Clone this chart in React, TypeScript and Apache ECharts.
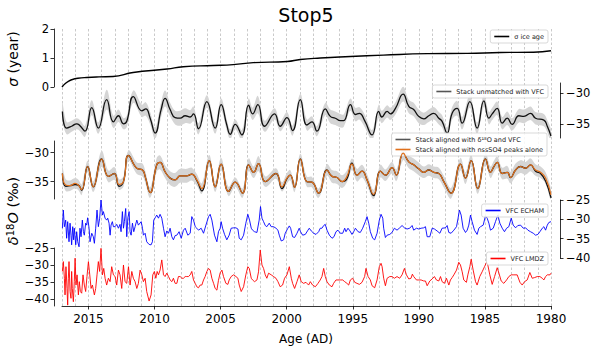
import React, { useEffect, useRef } from "react";
import * as echarts from "echarts";

const X_MIN = 1980;
const X_MAX = 2017;
const FONT = "DejaVu Sans";

// σ ice age [year, sigma]
const sigmaIceAge: number[][] = [
  [2017.0, 0.0], [2016.75, 0.12], [2016.5, 0.2], [2016.27, 0.25], [2015.8, 0.3], [2015.13, 0.33],
  [2014.2, 0.35], [2013.14, 0.36], [2011.62, 0.5], [2009.05, 0.62], [2007.83, 0.7], [2005.56, 0.74],
  [2004.05, 0.77], [2002.53, 0.84], [1999.95, 0.88], [1998.97, 0.95], [1997.45, 1.0], [1995.18, 1.05],
  [1992.68, 1.1], [1989.35, 1.15], [1986.32, 1.16], [1983.82, 1.19], [1981.32, 1.2], [1980.0, 1.25],
];

// Stack unmatched with VFC [year, value, half-width of grey band]
const stackUnmatched: number[][] = [
  [2016.97, -33.0, 1.4], [2016.65, -35.7, 1.0], [2016.27, -35.4, 0.9], [2015.89, -35.0, 0.9],
  [2015.64, -35.3, 0.9], [2015.26, -36.2, 0.9], [2014.75, -32.4, 1.2], [2014.25, -35.7, 0.9],
  [2013.62, -31.1, 1.6], [2013.11, -34.7, 1.0], [2012.73, -33.7, 1.0], [2012.35, -35.0, 0.9],
  [2012.1, -34.6, 0.9], [2011.6, -30.6, 1.0], [2010.96, -32.9, 1.0], [2010.66, -32.6, 1.1],
  [2010.33, -34.1, 1.0], [2009.95, -36.5, 0.9], [2009.5, -32.7, 1.2], [2009.2, -30.9, 1.3],
  [2008.82, -32.7, 1.1], [2008.44, -34.0, 1.1], [2008.06, -34.1, 1.2], [2007.68, -33.7, 1.2],
  [2007.3, -33.9, 1.1], [2007.05, -33.4, 1.2], [2006.67, -35.8, 0.9], [2006.04, -31.4, 1.0],
  [2005.41, -35.7, 0.9], [2004.96, -31.9, 1.0], [2004.53, -35.2, 0.9], [2004.27, -36.7, 0.8],
  [2003.89, -35.1, 0.8], [2003.39, -36.8, 0.8], [2002.88, -32.0, 1.1], [2002.58, -33.4, 1.0],
  [2002.18, -31.9, 1.4], [2001.67, -35.4, 0.9], [2000.92, -33.4, 0.9], [2000.49, -35.4, 0.8],
  [1999.98, -34.0, 0.9], [1999.55, -36.1, 0.8], [1998.97, -31.1, 0.9], [1998.47, -35.2, 0.9],
  [1998.09, -34.7, 0.9], [1997.71, -36.2, 0.8], [1997.08, -32.6, 1.0], [1996.7, -33.8, 1.1],
  [1996.32, -34.1, 1.1], [1995.94, -34.5, 1.1], [1995.69, -34.5, 1.0], [1995.18, -31.9, 1.0],
  [1994.8, -33.5, 1.1], [1994.5, -33.3, 1.0], [1994.1, -34.5, 1.0], [1993.54, -36.8, 0.8],
  [1993.04, -33.0, 1.1], [1992.8, -33.9, 1.0], [1992.4, -33.0, 1.0], [1992.15, -33.4, 1.0],
  [1991.77, -32.5, 1.0], [1991.19, -30.2, 1.2], [1990.76, -32.2, 1.1], [1990.39, -32.7, 1.1],
  [1990.01, -33.8, 1.1], [1989.63, -34.2, 1.0], [1989.25, -33.7, 1.0], [1988.87, -33.3, 1.0],
  [1988.49, -34.1, 1.0], [1988.24, -34.6, 1.0], [1987.86, -36.5, 0.9], [1987.48, -33.3, 1.0],
  [1987.1, -32.5, 1.2], [1986.72, -34.9, 1.0], [1986.14, -31.4, 1.0], [1985.59, -35.7, 0.9],
  [1985.08, -31.3, 1.0], [1984.7, -34.1, 1.0], [1984.45, -33.4, 1.0], [1984.07, -32.5, 1.1],
  [1983.69, -34.9, 1.0], [1983.31, -34.1, 1.1], [1982.94, -35.1, 1.0], [1982.43, -33.7, 1.1],
  [1982.05, -33.8, 1.1], [1981.55, -33.3, 1.1], [1981.17, -34.1, 1.0], [1980.54, -34.4, 1.0],
  [1980.28, -35.4, 1.0], [1980.0, -37.0, 1.0],
];

// Stack aligned [year, nssSO4-only (orange), δ18O+VFC (black), half-width of grey band]
const stackAligned: number[][] = [
  [2016.97, -33.6, -33.6, 1.2], [2016.72, -35.6, -35.8, 1.0], [2016.39, -35.7, -35.7, 0.9],
  [2016.01, -35.3, -35.5, 0.9], [2015.76, -35.6, -35.6, 0.9], [2015.51, -36.4, -36.5, 0.9],
  [2015.06, -32.4, -32.4, 1.0], [2014.63, -35.9, -35.9, 0.9], [2014.0, -31.1, -31.1, 1.4],
  [2013.49, -34.1, -34.1, 1.0], [2013.04, -33.6, -33.6, 1.1], [2012.68, -35.5, -35.8, 0.9],
  [2012.35, -35.0, -35.0, 0.9], [2011.97, -30.5, -30.5, 0.9], [2011.34, -32.7, -32.7, 1.0],
  [2010.91, -33.0, -33.0, 1.1], [2010.71, -34.1, -34.1, 1.0], [2010.33, -36.9, -36.9, 0.9],
  [2009.83, -32.1, -32.1, 1.2], [2009.58, -31.7, -31.7, 1.2], [2009.2, -33.3, -33.3, 1.1],
  [2008.82, -34.4, -34.4, 1.2], [2008.44, -34.7, -34.7, 1.2], [2008.06, -34.0, -34.0, 1.2],
  [2007.56, -34.0, -34.0, 1.2], [2007.18, -33.7, -33.7, 1.1], [2006.8, -34.7, -34.8, 1.0],
  [2006.42, -36.2, -36.6, 0.9], [2005.86, -31.4, -31.4, 1.0], [2005.41, -35.9, -35.9, 0.9],
  [2004.96, -32.0, -32.0, 1.1], [2004.4, -36.7, -36.7, 0.8], [2003.89, -35.1, -35.1, 0.8],
  [2003.34, -37.0, -37.0, 0.8], [2002.88, -32.1, -32.1, 1.1], [2002.5, -33.4, -33.4, 1.0],
  [2002.13, -31.9, -31.9, 1.3], [2001.62, -35.0, -35.0, 0.9], [2000.81, -33.6, -33.6, 0.9],
  [2000.36, -35.9, -36.2, 0.8], [1999.98, -34.4, -34.5, 0.9], [1999.73, -33.9, -33.9, 0.9],
  [1999.4, -36.0, -36.0, 0.8], [1998.97, -31.1, -31.1, 0.9], [1998.47, -35.0, -35.0, 0.9],
  [1998.09, -35.1, -35.1, 0.9], [1997.58, -37.0, -37.0, 0.8], [1996.95, -33.0, -33.0, 1.0],
  [1996.57, -34.1, -34.1, 1.1], [1996.19, -34.3, -34.3, 1.1], [1995.81, -35.0, -35.0, 1.1],
  [1995.44, -34.1, -34.5, 1.0], [1995.06, -32.0, -31.8, 1.0], [1994.68, -33.9, -33.9, 1.1],
  [1994.3, -33.2, -33.2, 1.1], [1993.92, -34.7, -34.7, 1.0], [1993.42, -37.2, -37.4, 0.8],
  [1992.91, -33.2, -33.2, 1.1], [1992.53, -33.9, -33.9, 1.0], [1992.03, -32.6, -32.6, 1.0],
  [1991.7, -33.9, -33.9, 1.0], [1991.19, -30.1, -30.1, 1.2], [1990.76, -31.6, -31.6, 1.1],
  [1990.39, -32.1, -32.1, 1.1], [1990.01, -32.8, -32.8, 1.1], [1989.63, -33.4, -33.4, 1.0],
  [1989.25, -33.0, -33.0, 1.0], [1988.87, -33.4, -33.4, 1.0], [1988.49, -33.6, -33.6, 1.0],
  [1988.11, -35.0, -35.0, 1.0], [1987.56, -37.0, -37.0, 0.9], [1986.85, -32.0, -32.0, 1.1],
  [1986.47, -34.4, -34.4, 1.0], [1986.04, -31.4, -31.4, 1.0], [1985.54, -36.2, -36.2, 0.9],
  [1984.96, -31.1, -31.1, 1.0], [1984.58, -33.4, -33.4, 1.0], [1984.32, -32.4, -32.4, 1.0],
  [1984.07, -31.7, -31.7, 1.0], [1983.69, -33.6, -33.6, 1.0], [1983.31, -33.4, -33.4, 1.1],
  [1983.06, -34.3, -34.3, 1.0], [1982.68, -33.0, -33.0, 1.1], [1982.3, -32.4, -32.4, 1.1],
  [1981.92, -32.7, -32.7, 1.1], [1981.55, -32.1, -32.1, 1.1], [1981.17, -33.0, -33.2, 1.0],
  [1980.79, -33.4, -33.6, 1.0], [1980.41, -34.4, -34.9, 1.0], [1980.0, -37.3, -37.8, 1.0],
];

// VFC ECHAM [year, δ18O]
const vfcEcham: number[][] = [
  [2016.97, -32.3], [2016.9, -27.6], [2016.82, -31.9], [2016.72, -30.2], [2016.65, -34.9], [2016.57, -30.6],
  [2016.47, -35.8], [2016.39, -31.0], [2016.32, -34.1], [2016.27, -36.6], [2016.19, -31.9], [2016.12, -35.3],
  [2016.07, -32.3], [2015.96, -36.6], [2015.89, -33.2], [2015.81, -35.8], [2015.71, -37.1], [2015.64, -32.3],
  [2015.56, -34.5], [2015.46, -30.2], [2015.38, -33.2], [2015.31, -34.1], [2015.21, -31.0], [2015.13, -31.5],
  [2015.06, -29.6], [2014.95, -32.3], [2014.88, -35.8], [2014.75, -33.6], [2014.63, -34.5], [2014.55, -36.2],
  [2014.45, -32.3], [2014.35, -27.6], [2014.25, -31.9], [2014.15, -29.7], [2014.05, -25.0], [2013.94, -28.9],
  [2013.87, -28.0], [2013.74, -29.7], [2013.62, -30.2], [2013.54, -29.7], [2013.44, -31.0], [2013.36, -34.1],
  [2013.29, -31.5], [2013.19, -30.6], [2013.11, -31.9], [2012.98, -31.9], [2012.86, -31.3], [2012.73, -32.3],
  [2012.61, -31.3], [2012.53, -33.2], [2012.43, -28.0], [2012.35, -32.3], [2012.28, -30.6], [2012.18, -27.2],
  [2012.1, -34.5], [2012.02, -29.7], [2011.92, -28.0], [2011.85, -33.2], [2011.77, -34.1], [2011.67, -31.0],
  [2011.57, -33.2], [2011.47, -31.9], [2011.34, -30.2], [2011.22, -31.5], [2011.01, -30.6], [2010.91, -32.3],
  [2010.84, -34.1], [2010.71, -33.6], [2010.59, -35.8], [2010.41, -36.5], [2010.26, -36.6], [2010.16, -35.8],
  [2010.06, -30.2], [2009.95, -29.6], [2009.83, -28.9], [2009.7, -29.7], [2009.58, -28.7], [2009.45, -29.7],
  [2009.32, -32.3], [2009.2, -34.5], [2009.07, -33.0], [2008.94, -33.6], [2008.82, -32.3], [2008.69, -34.5],
  [2008.57, -35.3], [2008.44, -34.2], [2008.31, -34.1], [2008.14, -33.2], [2007.98, -34.9], [2007.81, -32.8],
  [2007.68, -32.3], [2007.48, -34.1], [2007.3, -33.6], [2007.18, -29.3], [2007.05, -30.2], [2006.92, -31.9],
  [2006.8, -32.3], [2006.67, -32.8], [2006.47, -32.3], [2006.29, -33.6], [2006.11, -31.5], [2005.91, -29.3],
  [2005.79, -28.7], [2005.66, -30.2], [2005.46, -34.1], [2005.28, -35.8], [2005.16, -33.2], [2005.03, -32.3],
  [2004.96, -30.6], [2004.85, -32.3], [2004.7, -33.9], [2004.53, -35.3], [2004.35, -34.1], [2004.2, -32.3],
  [2004.02, -32.2], [2003.84, -32.2], [2003.69, -32.5], [2003.59, -34.9], [2003.44, -35.3], [2003.26, -34.1],
  [2003.09, -31.0], [2002.94, -28.7], [2002.81, -30.2], [2002.68, -32.3], [2002.58, -32.8], [2002.43, -33.2],
  [2002.25, -33.4], [2002.08, -30.2], [2001.98, -26.7], [2001.87, -29.7], [2001.75, -30.6], [2001.62, -31.6],
  [2001.5, -31.9], [2001.32, -31.0], [2001.17, -31.9], [2000.99, -31.9], [2000.81, -32.3], [2000.66, -32.8],
  [2000.56, -34.1], [2000.41, -35.6], [2000.23, -35.3], [2000.11, -33.6], [1999.91, -32.3], [1999.8, -31.7],
  [1999.7, -32.3], [1999.55, -34.5], [1999.4, -34.7], [1999.22, -33.6], [1999.05, -32.3], [1998.95, -33.2],
  [1998.79, -34.1], [1998.59, -33.9], [1998.39, -32.8], [1998.29, -32.3], [1998.14, -33.0], [1997.96, -33.6],
  [1997.78, -33.9], [1997.58, -33.2], [1997.46, -32.3], [1997.33, -32.3], [1997.2, -31.6], [1997.08, -31.3],
  [1996.95, -32.8], [1996.77, -34.1], [1996.57, -34.9], [1996.42, -34.5], [1996.27, -33.2], [1996.12, -32.8],
  [1995.94, -33.6], [1995.76, -33.6], [1995.61, -32.3], [1995.51, -33.2], [1995.36, -32.3], [1995.21, -33.0],
  [1995.06, -33.9], [1994.93, -33.2], [1994.8, -32.3], [1994.6, -33.2], [1994.43, -33.4], [1994.25, -32.3],
  [1994.05, -30.6], [1993.92, -29.3], [1993.79, -31.0], [1993.67, -33.2], [1993.49, -34.9], [1993.34, -35.3],
  [1993.16, -33.6], [1992.99, -30.2], [1992.86, -28.7], [1992.73, -29.7], [1992.66, -32.3], [1992.53, -34.7],
  [1992.4, -34.1], [1992.2, -33.9], [1992.03, -33.4], [1991.85, -32.3], [1991.65, -32.8], [1991.45, -32.2],
  [1991.27, -31.6], [1991.09, -32.2], [1990.89, -32.5], [1990.69, -32.3], [1990.51, -31.6], [1990.39, -32.8],
  [1990.18, -32.3], [1990.01, -32.5], [1989.83, -32.3], [1989.63, -32.2], [1989.5, -31.9], [1989.37, -34.5],
  [1989.17, -34.5], [1988.99, -32.3], [1988.82, -32.5], [1988.62, -33.0], [1988.41, -33.6], [1988.24, -32.3],
  [1987.99, -32.2], [1987.86, -31.6], [1987.73, -33.4], [1987.56, -33.6], [1987.35, -32.8], [1987.15, -31.9],
  [1987.03, -29.7], [1986.93, -27.6], [1986.8, -28.9], [1986.65, -32.3], [1986.47, -33.4], [1986.34, -32.8],
  [1986.22, -31.5], [1986.09, -28.9], [1985.97, -30.6], [1985.79, -32.8], [1985.59, -33.9], [1985.46, -32.3],
  [1985.33, -31.9], [1985.13, -31.5], [1984.96, -29.1], [1984.83, -29.7], [1984.7, -31.0], [1984.58, -32.8],
  [1984.37, -32.3], [1984.2, -30.6], [1984.02, -28.9], [1983.87, -31.0], [1983.69, -32.3], [1983.52, -33.2],
  [1983.36, -32.3], [1983.19, -31.9], [1983.01, -29.7], [1982.86, -31.5], [1982.68, -32.2], [1982.51, -31.6],
  [1982.3, -31.5], [1982.1, -32.3], [1981.92, -32.2], [1981.75, -32.8], [1981.55, -33.2], [1981.34, -33.6],
  [1981.17, -34.1], [1980.99, -33.9], [1980.84, -33.2], [1980.66, -32.3], [1980.54, -31.9], [1980.41, -32.8],
  [1980.28, -31.5], [1980.16, -30.8], [1980.0, -30.6],
];

// VFC LMDZ [year, δ18O]
const vfcLmdz: number[][] = [
  [2016.97, -31.9], [2016.9, -29.0], [2016.82, -33.9], [2016.77, -38.8], [2016.7, -30.5], [2016.62, -36.9],
  [2016.57, -41.8], [2016.52, -33.9], [2016.47, -29.0], [2016.39, -37.8], [2016.32, -39.8], [2016.27, -31.9],
  [2016.22, -36.9], [2016.14, -40.8], [2016.07, -34.9], [2016.01, -28.0], [2015.94, -35.9], [2015.86, -32.9],
  [2015.76, -38.8], [2015.69, -34.9], [2015.61, -37.8], [2015.51, -38.3], [2015.41, -32.9], [2015.31, -35.9],
  [2015.21, -37.8], [2015.11, -33.4], [2015.0, -29.0], [2014.9, -32.9], [2014.8, -36.9], [2014.7, -35.9],
  [2014.55, -38.8], [2014.45, -36.9], [2014.35, -32.9], [2014.25, -29.0], [2014.15, -31.9], [2014.05, -25.1],
  [2013.94, -32.9], [2013.84, -31.0], [2013.74, -33.9], [2013.62, -35.9], [2013.49, -33.9], [2013.36, -34.9],
  [2013.24, -30.5], [2013.11, -32.9], [2012.98, -33.4], [2012.86, -35.9], [2012.73, -31.5], [2012.61, -32.9],
  [2012.48, -36.9], [2012.35, -30.0], [2012.23, -34.9], [2012.1, -35.4], [2011.97, -30.5], [2011.85, -35.9],
  [2011.72, -31.9], [2011.6, -33.9], [2011.47, -34.9], [2011.34, -36.9], [2011.22, -35.4], [2011.09, -31.5],
  [2010.96, -32.9], [2010.84, -34.9], [2010.71, -33.9], [2010.59, -37.8], [2010.41, -40.6], [2010.26, -38.8],
  [2010.13, -32.9], [2010.01, -31.9], [2009.9, -33.9], [2009.8, -31.9], [2009.7, -32.9], [2009.58, -31.5],
  [2009.45, -28.5], [2009.32, -32.9], [2009.2, -33.4], [2009.07, -32.4], [2008.94, -33.4], [2008.82, -34.4],
  [2008.69, -34.9], [2008.57, -33.9], [2008.44, -35.4], [2008.31, -35.4], [2008.19, -33.4], [2008.06, -33.4],
  [2007.93, -33.9], [2007.81, -33.9], [2007.68, -33.4], [2007.56, -33.4], [2007.43, -33.4], [2007.3, -32.9],
  [2007.18, -31.9], [2007.05, -34.4], [2006.92, -35.4], [2006.8, -36.4], [2006.67, -36.7], [2006.55, -35.9],
  [2006.42, -35.9], [2006.29, -34.4], [2006.17, -33.4], [2006.04, -31.9], [2005.91, -31.0], [2005.79, -31.5],
  [2005.66, -33.9], [2005.53, -35.4], [2005.41, -36.9], [2005.28, -37.4], [2005.16, -34.5], [2005.03, -32.3],
  [2004.9, -31.5], [2004.78, -33.4], [2004.6, -35.4], [2004.45, -35.7], [2004.35, -34.4], [2004.2, -33.4],
  [2004.02, -32.9], [2003.84, -33.4], [2003.69, -33.9], [2003.59, -35.9], [2003.44, -37.8], [2003.26, -36.4],
  [2003.09, -32.9], [2002.94, -30.5], [2002.83, -31.0], [2002.68, -33.9], [2002.58, -34.4], [2002.43, -34.9],
  [2002.25, -34.4], [2002.13, -32.0], [2002.0, -25.6], [2001.87, -30.0], [2001.75, -31.0], [2001.62, -32.9],
  [2001.5, -33.9], [2001.37, -32.4], [2001.17, -32.9], [2000.99, -33.4], [2000.81, -33.9], [2000.66, -34.9],
  [2000.49, -36.4], [2000.31, -35.9], [2000.16, -33.9], [1999.98, -32.9], [1999.8, -30.5], [1999.65, -33.9],
  [1999.55, -35.4], [1999.4, -36.9], [1999.22, -34.9], [1999.05, -32.9], [1998.9, -34.9], [1998.72, -35.4],
  [1998.54, -35.1], [1998.34, -35.9], [1998.21, -34.9], [1998.04, -35.9], [1997.83, -36.4], [1997.63, -35.4],
  [1997.46, -34.4], [1997.33, -33.4], [1997.2, -31.0], [1997.08, -33.4], [1996.95, -34.9], [1996.77, -35.9],
  [1996.57, -36.4], [1996.45, -35.4], [1996.27, -34.4], [1996.12, -34.4], [1995.94, -34.4], [1995.76, -34.4],
  [1995.61, -34.9], [1995.44, -35.4], [1995.31, -35.9], [1995.18, -34.4], [1995.01, -33.9], [1994.85, -35.1],
  [1994.68, -35.4], [1994.5, -35.7], [1994.3, -35.1], [1994.1, -33.4], [1994.0, -31.0], [1993.84, -33.4],
  [1993.67, -34.4], [1993.54, -36.1], [1993.34, -36.7], [1993.16, -34.4], [1992.99, -30.5], [1992.86, -29.5],
  [1992.78, -30.5], [1992.66, -33.9], [1992.53, -36.1], [1992.4, -33.9], [1992.2, -33.4], [1992.03, -33.4],
  [1991.85, -33.9], [1991.65, -33.4], [1991.45, -33.9], [1991.27, -32.9], [1991.09, -31.0], [1990.94, -32.9],
  [1990.76, -34.1], [1990.59, -33.9], [1990.49, -32.7], [1990.39, -33.4], [1990.18, -34.4], [1990.01, -34.4],
  [1989.83, -34.4], [1989.63, -34.7], [1989.5, -34.7], [1989.37, -36.1], [1989.17, -34.7], [1988.99, -34.1],
  [1988.82, -33.4], [1988.67, -34.4], [1988.49, -34.7], [1988.36, -33.4], [1988.24, -34.9], [1988.06, -35.4],
  [1987.91, -33.9], [1987.73, -35.9], [1987.61, -34.4], [1987.48, -33.7], [1987.35, -32.9], [1987.15, -31.5],
  [1986.98, -29.2], [1986.85, -30.0], [1986.72, -32.0], [1986.6, -34.4], [1986.4, -35.1], [1986.29, -32.9],
  [1986.14, -30.5], [1986.04, -28.3], [1985.89, -31.5], [1985.71, -34.9], [1985.59, -35.9], [1985.39, -33.4],
  [1985.21, -32.0], [1985.03, -30.5], [1984.88, -29.2], [1984.78, -30.0], [1984.63, -32.9], [1984.45, -35.7],
  [1984.27, -33.4], [1984.07, -30.8], [1983.94, -32.4], [1983.77, -34.7], [1983.57, -35.4], [1983.36, -34.4],
  [1983.19, -33.4], [1983.01, -32.9], [1982.81, -32.9], [1982.56, -32.9], [1982.35, -35.1], [1982.18, -35.9],
  [1982.0, -34.9], [1981.8, -34.4], [1981.6, -32.2], [1981.42, -33.9], [1981.24, -33.7], [1981.04, -33.4],
  [1980.84, -33.4], [1980.66, -33.9], [1980.54, -34.4], [1980.41, -33.4], [1980.28, -32.9], [1980.08, -32.9],
  [1980.0, -32.4],
];

const xTickYears = [2015, 2010, 2005, 2000, 1995, 1990, 1985, 1980];
const sigmaTicks = [0, 1, 2];
const stackTicks = [-35, -30];
const vfcTicks = [-40, -35, -30, -25];

const minusFmt = (v: number | string) => String(v).replace("-", "\u2212");

function yAxisDef(grid: number, min: number, max: number, ticks: number[], right = false) {
  return {
    type: "value",
    gridIndex: grid,
    min,
    max,
    position: right ? "right" : "left",
    offset: right ? 9 : 8,
    axisLine: { show: true, lineStyle: { color: "#000", width: 0.8 } },
    axisTick: { show: true, length: 3.5, customValues: ticks, lineStyle: { color: "#000", width: 0.8 } },
    axisLabel: {
      customValues: ticks,
      formatter: minusFmt,
      fontSize: 11.5,
      fontFamily: FONT,
      color: "#000",
      margin: right ? 6 : 5,
    },
    splitLine: { show: false },
  };
}

function hiddenX(grid: number) {
  return { type: "value", gridIndex: grid, min: X_MIN, max: X_MAX, inverse: true, show: false };
}

// grey uncertainty band drawn as one polygon through the axes' own coordinate mapping
function bandSeries(rows: number[][], center: number, half: number, axisIndex: number) {
  return {
    type: "custom",
    xAxisIndex: axisIndex,
    yAxisIndex: axisIndex,
    silent: true,
    clip: true,
    z: 1,
    data: rows.map((r) => [r[0], r[center] - r[half], r[center] + r[half]]),
    encode: { x: 0, y: [1, 2] },
    renderItem: (params: any, api: any) => {
      if (params.dataIndex !== 0) return null;
      const upper = rows.map((r) => api.coord([r[0], r[center] + r[half]]));
      const lower = rows.map((r) => api.coord([r[0], r[center] - r[half]])).reverse();
      return {
        type: "polygon",
        shape: { points: upper.concat(lower), smooth: 0.35 },
        style: { fill: "#d5d5d5", stroke: "none" },
      };
    },
  };
}

export default function App() {
  const ref = useRef<HTMLDivElement>(null);

  useEffect(() => {
    if (!ref.current) return;
    const chart = echarts.init(ref.current, null, { renderer: "svg" });

    const unmatchedLine = stackUnmatched.map((d) => [d[0], d[1]]);
    const alignedOrange = stackAligned.map((d) => [d[0], d[1]]);
    const alignedBlack = stackAligned.map((d) => [d[0], d[2]]);

    const legendCommon = {
      icon: "rect",
      itemWidth: 15,
      itemHeight: 1.6,
      itemGap: 3,
      padding: [3, 4, 3, 4],
      borderColor: "#cfcfcf",
      borderWidth: 0.8,
      borderRadius: 2,
      backgroundColor: "rgba(255,255,255,0.85)",
      selectedMode: false,
      textStyle: { fontSize: 6.5, fontFamily: FONT, color: "#222" },
    };

    const option: any = {
      animation: false,
      backgroundColor: "#fff",
      grid: [
        { left: 62, right: 49, top: 29, height: 58 },
        { left: 62, right: 49, top: 83, height: 55 },
        { left: 62, right: 49, top: 141, height: 58 },
        { left: 62, right: 49, top: 200, height: 58 },
        { left: 62, right: 49, top: 248, height: 58 },
        { left: 62, right: 49, top: 29, bottom: 45 },
      ],
      xAxis: [
        hiddenX(0),
        hiddenX(1),
        hiddenX(2),
        hiddenX(3),
        hiddenX(4),
        {
          type: "value",
          gridIndex: 5,
          min: X_MIN,
          max: X_MAX,
          inverse: true,
          interval: 1,
          position: "top",
          axisLine: { show: false },
          axisTick: { show: false },
          axisLabel: { show: false },
          splitLine: { show: true, lineStyle: { color: "#bdbdbd", width: 0.8, type: [2.5, 2] } },
        },
        {
          type: "value",
          gridIndex: 5,
          min: X_MIN,
          max: X_MAX,
          inverse: true,
          position: "bottom",
          axisLine: { show: true, lineStyle: { color: "#000", width: 0.8 } },
          axisTick: { show: true, length: 3.5, customValues: xTickYears, lineStyle: { color: "#000", width: 0.8 } },
          axisLabel: {
            customValues: xTickYears,
            formatter: (v: number) => String(v),
            fontSize: 12,
            fontFamily: FONT,
            color: "#000",
            margin: 7,
          },
          splitLine: { show: false },
        },
      ],
      yAxis: [
        yAxisDef(0, 0, 2, sigmaTicks),
        yAxisDef(1, -37.3, -28.4, stackTicks, true),
        yAxisDef(2, -38, -28, stackTicks),
        yAxisDef(3, -40, -25, vfcTicks, true),
        yAxisDef(4, -42.06, -25, vfcTicks),
        { type: "value", gridIndex: 5, min: 0, max: 1, show: false },
      ],
      legend: [
        { ...legendCommon, data: [{ name: "σ ice age", itemStyle: { color: "#000" } }], right: 52, top: 30 },
        {
          ...legendCommon,
          data: [{ name: "Stack unmatched with VFC", itemStyle: { color: "#555" } }],
          right: 52,
          top: 85,
        },
        {
          ...legendCommon,
          orient: "vertical",
          data: [
            { name: "Stack aligned with δ¹⁸O and VFC", itemStyle: { color: "#555" } },
            { name: "Stack aligned with nssSO4 peaks alone", itemStyle: { color: "#e0701c" } },
          ],
          right: 53,
          top: 133,
        },
        { ...legendCommon, data: [{ name: "VFC ECHAM", itemStyle: { color: "#0000ff" } }], right: 52, top: 204 },
        { ...legendCommon, data: [{ name: "VFC LMDZ", itemStyle: { color: "#ff0000" } }], right: 52, top: 252 },
      ],
      graphic: [
        {
          type: "text",
          x: 306,
          y: 15,
          style: { text: "Stop5", font: `19px "${FONT}"`, fill: "#000", textAlign: "center", textVerticalAlign: "middle" },
        },
        {
          type: "text",
          x: 306,
          y: 339,
          style: { text: "Age (AD)", font: `12px "${FONT}"`, fill: "#000", textAlign: "center", textVerticalAlign: "middle" },
        },
        {
          type: "text",
          x: 13,
          y: 59,
          rotation: Math.PI / 2,
          style: {
            text: "{i|σ} (year)",
            font: `14px "${FONT}"`,
            fill: "#000",
            textAlign: "center",
            textVerticalAlign: "middle",
            rich: { i: { fontStyle: "italic", fontSize: 14, fontFamily: FONT, fill: "#000" } },
          },
        },
        {
          type: "text",
          x: 13,
          y: 211,
          rotation: Math.PI / 2,
          style: {
            text: "{i|δ}{s|18}{i|O} (‰)",
            font: `14.5px "${FONT}"`,
            fill: "#000",
            textAlign: "center",
            textVerticalAlign: "middle",
            rich: {
              i: { fontStyle: "italic", fontSize: 14.5, fontFamily: FONT, fill: "#000" },
              s: { fontSize: 10, fontFamily: FONT, fill: "#000", verticalAlign: "top" },
            },
          },
        },
      ],
      series: [
        {
          name: "σ ice age",
          type: "line",
          xAxisIndex: 0,
          yAxisIndex: 0,
          data: sigmaIceAge,
          smooth: true,
          symbol: "none",
          lineStyle: { color: "#000", width: 1.4 },
          itemStyle: { color: "#000" },
        },
        bandSeries(stackUnmatched, 1, 2, 1),
        {
          name: "Stack unmatched with VFC",
          type: "line",
          xAxisIndex: 1,
          yAxisIndex: 1,
          data: unmatchedLine,
          smooth: true,
          symbol: "none",
          z: 3,
          lineStyle: { color: "#111", width: 1.3 },
          itemStyle: { color: "#111" },
        },
        bandSeries(stackAligned, 1, 3, 2),
        {
          name: "Stack aligned with δ¹⁸O and VFC",
          type: "line",
          xAxisIndex: 2,
          yAxisIndex: 2,
          data: alignedBlack,
          smooth: true,
          symbol: "none",
          z: 3,
          lineStyle: { color: "#111", width: 1.3 },
          itemStyle: { color: "#111" },
        },
        {
          name: "Stack aligned with nssSO4 peaks alone",
          type: "line",
          xAxisIndex: 2,
          yAxisIndex: 2,
          data: alignedOrange,
          smooth: true,
          symbol: "none",
          z: 4,
          lineStyle: { color: "#e0701c", width: 1.2 },
          itemStyle: { color: "#e0701c" },
        },
        {
          name: "VFC ECHAM",
          type: "line",
          xAxisIndex: 3,
          yAxisIndex: 3,
          data: vfcEcham,
          symbol: "none",
          lineStyle: { color: "#0000ff", width: 0.9 },
          itemStyle: { color: "#0000ff" },
        },
        {
          name: "VFC LMDZ",
          type: "line",
          xAxisIndex: 4,
          yAxisIndex: 4,
          data: vfcLmdz,
          symbol: "none",
          lineStyle: { color: "#ff0000", width: 0.9 },
          itemStyle: { color: "#ff0000" },
        },
      ],
    };

    chart.setOption(option);
    return () => chart.dispose();
  }, []);

  return (
    <div
      ref={ref}
      style={{ position: "absolute", left: 0, top: 0, width: 600, height: 351, background: "#fff" }}
    />
  );
}
